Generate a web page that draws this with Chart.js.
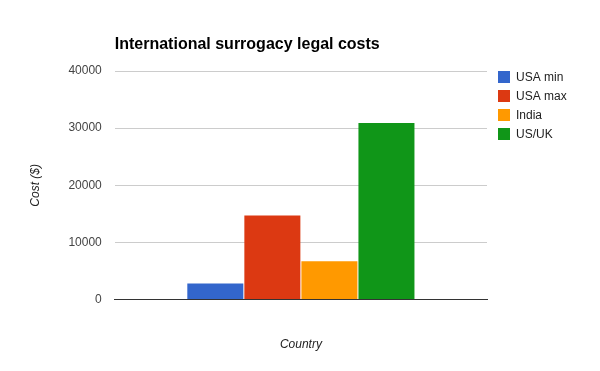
<!DOCTYPE html>
<html>
<head>
<meta charset="utf-8">
<script src="https://cdn.jsdelivr.net/npm/chart.js@4.4.0/dist/chart.umd.min.js"></script>
<style>
  html, body { margin: 0; padding: 0; background: #fff; }
  #wrap { width: 600px; height: 371px; }
</style>
</head>
<body>
<div id="wrap"><canvas id="chart" width="600" height="371"></canvas></div>
<script>
// data
const seriesNames = ['USA min', 'USA max', 'India', 'US/UK'];
const costs = [2800, 14700, 6700, 30900];
const yTicks = [0, 10000, 20000, 30000, 40000];
const chartTitle = 'International surrogacy legal costs';

const colors = ['#3366cc', '#dc3912', '#ff9900', '#109618'];
const FONT = 'Arial, "Liberation Sans", sans-serif';

// title + legend drawn google-charts style (left aligned to plot, legend top aligned)
const decor = {
    id: 'decor',
    afterDraw(chart) {
        const ctx = chart.ctx;
        const area = chart.chartArea;
        ctx.save();
        ctx.fillStyle = '#000';
        ctx.font = 'bold 16px ' + FONT;
        ctx.textBaseline = 'middle';
        ctx.textAlign = 'left';
        ctx.fillText(chartTitle, area.left, 45);

        ctx.font = '12px ' + FONT;
        chart.data.datasets.forEach((ds, i) => {
            const y = area.top + i * 19;
            ctx.fillStyle = ds.backgroundColor;
            ctx.fillRect(area.right + 11, y, 12, 12);
            ctx.fillStyle = '#222';
            ctx.fillText(ds.label, area.right + 29, y + 6.5);
        });
        ctx.restore();
    }
};

new Chart(document.getElementById('chart'), {
    type: 'bar',
    data: {
        labels: [''],
        datasets: seriesNames.map((name, i) => ({
            label: name,
            data: [costs[i]],
            backgroundColor: colors[i],
            borderWidth: 0,
            categoryPercentage: 0.613,
            barPercentage: 0.982
        }))
    },
    options: {
        responsive: false,
        animation: false,
        layout: { padding: { left: 20, right: 113, top: 71, bottom: 19 } },
        plugins: {
            legend: { display: false },
            title: { display: false },
            tooltip: { enabled: false }
        },
        scales: {
            x: {
                grid: { display: false, drawTicks: false },
                border: { display: true, color: '#333', width: 1 },
                ticks: { display: false },
                title: {
                    display: true, text: 'Country', color: '#222',
                    font: { size: 12, style: 'italic', family: FONT },
                    padding: { top: 38, bottom: 0 }
                }
            },
            y: {
                min: 0,
                max: 40000,
                afterBuildTicks: (axis) => { axis.ticks = yTicks.map(v => ({ value: v })); },
                ticks: {
                    color: '#444', font: { size: 12, family: FONT }, padding: 13,
                    callback: (v) => String(v)
                },
                grid: {
                    drawTicks: false,
                    color: (c) => (c.tick && c.tick.value === 0 ? '#333' : '#ccc')
                },
                border: { display: false },
                title: {
                    display: true, text: 'Cost ($)', color: '#222',
                    font: { size: 12, style: 'italic', family: FONT },
                    padding: { top: 8, bottom: 13 }
                }
            }
        }
    },
    plugins: [decor]
});
</script>
</body>
</html>
